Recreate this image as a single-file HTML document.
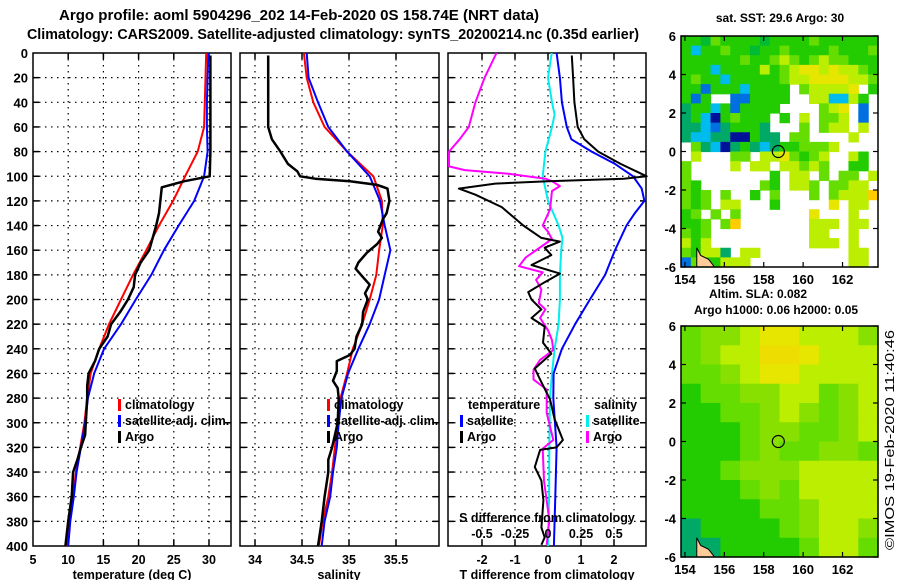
<!DOCTYPE html>
<html><head><meta charset="utf-8"><style>
html,body{margin:0;padding:0;background:#fff;}
svg{display:block;font-family:"Liberation Sans",sans-serif;font-weight:bold;}
</style></head><body>
<svg id="fig" width="900" height="580" viewBox="0 0 900 580" xmlns="http://www.w3.org/2000/svg">
<rect width="900" height="580" fill="#fff"/>
<text x="59" y="20" font-size="14.5" textLength="480" lengthAdjust="spacingAndGlyphs">Argo profile: aoml 5904296_202 14-Feb-2020 0S 158.74E (NRT data)</text>
<text x="27" y="39" font-size="14.5" textLength="612" lengthAdjust="spacingAndGlyphs">Climatology: CARS2009. Satellite-adjusted climatology: synTS_20200214.nc (0.35d earlier)</text>
<g id="plots"></g>
<text x="780" y="22" font-size="12" text-anchor="middle">sat. SST: 29.6 Argo: 30</text>
<text x="758" y="298" font-size="12" text-anchor="middle">Altim. SLA: 0.082</text>
<text x="776" y="314" font-size="12" text-anchor="middle">Argo h1000: 0.06 h2000: 0.05</text>
<text x="0" y="0" font-size="13" font-weight="normal" text-anchor="middle" textLength="220" lengthAdjust="spacingAndGlyphs" transform="translate(894,440) rotate(-90)">©IMOS 19-Feb-2020 11:40:46</text>
</svg>
<script>
// ---- data ----
const tClimDepth=[0,20,40,60,80,100,120,140,160,180,200,220,240,260,280,300,320,340,360,380,400];
const tClim=[29.6,29.5,29.4,29.3,28.4,26.6,24.9,22.9,21.1,19.2,17.5,15.8,14.4,13.2,12.7,12.3,11.7,11.1,10.7,10.1,9.8];
const tSat=[29.9,29.8,29.7,29.7,29.8,29.3,27.9,25.7,23.6,21.8,19.6,17.5,15.1,13.7,12.8,12.4,11.8,11.2,10.8,10.3,10.0];
const tArgoDepth=[2,20,40,60,80,100,104,109,130,140,150,160,170,180,190,200,210,220,230,240,250,260,270,280,300,310,320,330,340,360,380,400];
const tArgo=[30.2,30.2,30.2,30.2,30.2,30.1,26.5,23.3,22.9,22.5,22.0,21.5,20.3,19.5,19.3,18.5,17.4,16.1,15.6,14.4,13.8,12.9,12.7,12.7,12.5,12.4,11.8,11.3,10.7,10.5,10.0,9.6];
const sClimDepth=[0,20,40,60,80,100,120,140,160,180,200,220,240,260,280,300,320,340,360,380,400];
const sClim=[34.52,34.55,34.62,34.74,34.98,35.26,35.35,35.36,35.32,35.29,35.22,35.14,35.04,34.98,34.91,34.88,34.85,34.82,34.78,34.72,34.68];
const sSat=[34.55,34.57,34.67,34.78,34.98,35.22,35.33,35.38,35.44,35.38,35.32,35.22,35.10,34.99,34.92,34.89,34.87,34.83,34.80,34.74,34.71];
const sArgoDepth=[2,20,40,60,70,80,90,96,100,102,104,107,110,120,130,135,145,150,155,162,170,175,182,188,195,200,210,220,230,240,245,250,258,266,272,280,300,320,330,340,360,380,400];
const sArgo=[34.14,34.14,34.14,34.14,34.18,34.27,34.35,34.45,34.48,34.64,35.01,35.30,35.41,35.43,35.40,35.36,35.31,35.35,35.30,35.19,35.10,35.07,35.15,35.22,35.17,35.20,35.15,35.14,35.08,35.06,35.01,34.87,34.87,34.83,34.88,34.89,34.88,34.82,34.78,34.78,34.74,34.71,34.67];
const dTSatDepth=[0,20,40,60,70,80,90,100,110,120,130,140,160,180,200,220,240,260,280,320,360,400];
const dTSat=[0.26,0.36,0.42,0.57,0.71,1.32,2.03,2.58,2.84,2.92,2.63,2.38,2.03,1.73,1.27,0.82,0.42,0.17,0.16,0.26,0.22,0.18];
const dTArgoDepth=[2,20,40,60,70,80,90,100,102,104,106,110,115,125,140,150,153,158,164,172,179,186,194,200,208,215,222,235,244,256,265,281,297,314,320,322,336,347,363,385,393,399];
const dTArgo=[0.72,0.76,0.8,0.9,1.1,1.52,2.2,2.99,2.3,0,-1.6,-2.7,-2.2,-1.4,-0.75,-0.2,0.36,-0.1,0.1,-0.5,0.36,-0.1,-0.6,-0.5,-0.2,-0.5,-0.1,-0.15,0.1,-0.4,-0.24,0.06,0.2,0.45,0.26,-0.24,-0.4,-0.2,-0.14,-0.2,-0.1,-0.2];
const dSSatDepth=[0,20,40,50,60,80,100,110,120,140,150,160,180,200,220,240,260,280,320,360,400];
const dSSat=[0.028,0,0.03,0.05,0.03,-0.02,-0.04,-0.02,0,0.08,0.11,0.10,0.09,0.09,0.08,0.05,0.03,0.015,0.01,0.008,0];
const dSArgoDepth=[0,20,40,60,70,80,92,95,98,102,104,108,112,127,140,145,151,157,166,173,178,184,192,203,208,215,225,233,241,249,257,265,273,292,314,321,347,363,379,399];
const dSArgo=[-0.39,-0.48,-0.55,-0.6,-0.67,-0.75,-0.75,-0.63,-0.3,-0.02,0.03,0.09,0.03,0.015,-0.04,0,0.03,-0.05,-0.17,-0.22,-0.04,-0.09,-0.05,-0.07,-0.02,-0.06,0,0.03,0.04,-0.06,-0.11,-0.11,-0.01,-0.01,0.04,-0.04,-0.03,-0.01,0.01,-0.01];
const depthTicks=[0,20,40,60,80,100,120,140,160,180,200,220,240,260,280,300,320,340,360,380,400];
const tTicks=[5,10,15,20,25,30];
const sTicks=[34,34.5,35,35.5];
const dTTicks=[-2,-1,0,1,2];
const dSTicks=[-0.5,-0.25,0,0.25,0.5];
const dSTickLabels=["-0.5","-0.25","0","0.25","0.5"];
const sstGrid=[
"GGDgGGGGDGGGGgGGGGGG",
"GcGGgGGDGGgGGGGgGGGg",
"GGGGGGgGGgygGgyggGGG",
"GGGcGGGGyGgyYYyYyygG",
"GgGGcGGGGGgyyYYYYyyg",
"GGbGGGcGGGG.gyyyyY.G",
"GbG..bbGGGG..yyccyG.",
"tGGcGbGGGG....gyY.b.",
"tGcnGgGGG.G.y.ggy.b.",
"ttcbtGGGt...g.gyy.y.",
"tccttnnGtt.gg....y..",
".gtcntGtctGGgggy....",
".y...gg.yyYgGgy..yG.",
"g....y.yy.yygyg..GG.",
"g........G.yy.g.gg.y",
"gG......gG.yyg.ggyy.",
"gGg.g..G.g...g.gyyyo",
"gGg.yy...G.....Y.yy.",
"Gg.g.g.......Y...y..",
"GGg.go.......yyy.yy.",
"gGg..........yy..y..",
"yGy..........yyy.y..",
"gGyyt.yy.........yy.",
"bgGGyyy..........yy."];
const slaGrid=[
"gllyYYyyyl",
"glyyOOYyyy",
"gglyYYyyyy",
"Gggllyygly",
"GGgglylgly",
"GGGgllggly",
"GGGglggllg",
"GGglllyyyy",
"GGGglgyyyy",
"GGGGgglyyy",
"tGGGGglyyl",
"ttGGGGgyyg"];
const lonTicks=[154,156,158,160,162];
const latTicks=[6,4,2,0,-2,-4,-6];
const argoLon=158.74, argoLat=0;

// ---- drawing ----
const NS="http://www.w3.org/2000/svg";
const root=document.getElementById('plots');
function mk(tag,attrs,parent){const e=document.createElementNS(NS,tag);for(const k in attrs)e.setAttribute(k,attrs[k]);(parent||root).appendChild(e);return e;}
const Y0=53,Y1=546;
const yD=d=>Y0+(d/400)*(Y1-Y0);
const panels=[
 {x0:33,x1:231,v0:5,v1:5+198/7.04,name:'temperature'},
 {x0:240,x1:439,v0:34-15/94,v1:34+184/94,name:'salinity'},
 {x0:448,x1:646,v0:-100/33,v1:98/33,name:'t-diff'}];
function sx(p,v){return p.x0+(v-p.v0)/(p.v1-p.v0)*(p.x1-p.x0);}
const sxS=v=>548+132*v;
function line(p,xs,ds,color,w,name,fx){
  const pts=xs.map((v,i)=>(fx?fx(v):sx(p,v)).toFixed(1)+','+yD(ds[i]).toFixed(1)).join(' ');
  const el=mk('polyline',{points:pts,fill:'none',stroke:color,'stroke-width':w,'stroke-linejoin':'round'});
  
  
}
function text(x,y,s,size,anchor,name){
  const t=mk('text',{x:x,y:y,'font-size':size,'text-anchor':anchor||'start'});t.textContent=s;
  
  
  return t;
}
panels.forEach((p,pi)=>{
  const g=mk('g',{});
  
  
  const xt=pi==0?tTicks:pi==1?sTicks:dTTicks;
  depthTicks.forEach(d=>{ if(d>0&&d<400){
    mk('line',{x1:p.x0,x2:p.x1,y1:yD(d),y2:yD(d),stroke:'#000','stroke-width':1.2,'stroke-dasharray':'1.5,4.5'},g);
    mk('line',{x1:p.x0,x2:p.x0+6,y1:yD(d),y2:yD(d),stroke:'#000','stroke-width':1.5},g);
    mk('line',{x1:p.x1-6,x2:p.x1,y1:yD(d),y2:yD(d),stroke:'#000','stroke-width':1.5},g);}
    if(pi==0) text(28,yD(d)+5,String(d),13,'end','depth-tick-label');
  });
  xt.forEach(v=>{const x=sx(p,v);
    if(x>p.x0+2&&x<p.x1-2){mk('line',{x1:x,x2:x,y1:Y0,y2:Y1,stroke:'#000','stroke-width':1.2,'stroke-dasharray':'1.5,4.5'},g);
    mk('line',{x1:x,x2:x,y1:Y0,y2:Y0+6,stroke:'#000','stroke-width':1.5},g);
    mk('line',{x1:x,x2:x,y1:Y1-6,y2:Y1,stroke:'#000','stroke-width':1.5},g);}
    text(x,564,String(v),12.5,'middle','x-tick-label');
  });
  mk('rect',{x:p.x0,y:Y0,width:p.x1-p.x0,height:Y1-Y0,fill:'none',stroke:'#000','stroke-width':1.5},g);
});
text(132,579,'temperature (deg C)',12.5,'middle','temperature-axis-title');
text(339,579,'salinity',12.5,'middle','salinity-axis-title');
text(547,579,'T difference from climatology',12.5,'middle','t-diff-axis-title');
// series
const P=panels;
line(P[0],tClim,tClimDepth,'#f00',2,'temp-climatology-line');
line(P[0],tSat,tClimDepth,'#00f',2,'temp-satellite-line');
line(P[0],tArgo,tArgoDepth,'#000',2.5,'temp-argo-line');
line(P[1],sClim,sClimDepth,'#f00',2,'sal-climatology-line');
line(P[1],sSat,sClimDepth,'#00f',2,'sal-satellite-line');
line(P[1],sArgo,sArgoDepth,'#000',2.5,'sal-argo-line');
line(P[2],dSSat,dSSatDepth,'#0ee',2,'sdiff-satellite-line',sxS);
line(P[2],dSArgo,dSArgoDepth,'#f0f',2,'sdiff-argo-line',sxS);
line(P[2],dTSat,dTSatDepth,'#00f',2,'tdiff-satellite-line');
line(P[2],dTArgo,dTArgoDepth,'#000',2,'tdiff-argo-line');
// S diff axis labels
text(547,522,'S difference from climatology',12.5,'middle','s-diff-axis-title');
dSTicks.forEach((v,i)=>text(sxS(v),538,dSTickLabels[i],12.5,'middle','s-diff-tick-label'));
// legends
function leg(x,y,c,label,name){
  const r=mk('rect',{x:x,y:y-10,width:3,height:12,fill:c});
  
  
  text(x+7,y,label,12.5,'start',name+'-label');
}
[[118,0],[327,1]].forEach(([x])=>{
  leg(x,409,'#f00','climatology','legend-climatology');
  leg(x,425,'#00f','satellite-adj. clim.','legend-satellite-adj');
  leg(x,441,'#000','Argo','legend-argo');
});
text(468,409,'temperature',12.5,'start','legend-temperature-heading');
text(594,409,'salinity',12.5,'start','legend-salinity-heading');
leg(460,425,'#00f','satellite','legend-t-satellite');
leg(460,441,'#000','Argo','legend-t-argo');
leg(586,425,'#0ee','satellite','legend-s-satellite');
leg(586,441,'#f0f','Argo','legend-s-argo');
// maps
const MX0=681,MX1=878,L0=153.8,L1=163.8;
const mxL=l=>MX0+(l-L0)/(L1-L0)*(MX1-MX0);
const colors={G:'#22cc00',D:'#00bb33',g:'#66dd00',y:'#bbee00',Y:'#e6e600',o:'#ffcc00',t:'#00aa66',c:'#00bbee',b:'#0070e0',n:'#001199',l:'#88e000',O:'#eedd00'};
function drawMap(grid,y0,y1,name,edge){
  const g=mk('g',{});
  
  
  const my=la=>y0+(6-la)/12*(y1-y0);
  const rows=grid.length,cols=grid[0].length;
  const cw=(MX1-MX0)/cols,ch=(y1-y0)/rows;
  grid.forEach((row,r)=>{[...row].forEach((k,c)=>{ if(k!=='.'){
    const cell=mk('rect',{x:(MX0+c*cw).toFixed(2),y:(y0+r*ch).toFixed(2),width:(cw+0.6).toFixed(2),height:(ch+0.6).toFixed(2),fill:colors[k]},g);
    
    
  }});});
  // land
  const land=mk('path',{d:`M${mxL(154.6)},${my(-6)} L${mxL(154.6)},${my(-5)} L${mxL(154.8)},${my(-5.4)} L${mxL(155.2)},${my(-5.6)} L${mxL(155.5)},${my(-6)} Z`,fill:'#ffcc99',stroke:'#000','stroke-width':1},g);
  
  
  const cir=mk('circle',{cx:mxL(argoLon),cy:my(argoLat),r:6,fill:'none',stroke:'#000','stroke-width':1.2},g);
  
  
  mk('rect',{x:MX0,y:y0,width:MX1-MX0,height:y1-y0,fill:'none',stroke:'#000','stroke-width':1.5},g);
  latTicks.forEach(la=>{const y=my(la);
    mk('line',{x1:MX0,x2:MX0+5,y1:y,y2:y,stroke:'#000','stroke-width':1.2},g);
    mk('line',{x1:MX1-5,x2:MX1,y1:y,y2:y,stroke:'#000','stroke-width':1.2},g);
    text(676,y+5,String(la),13,'end','lat-tick-label');});
  lonTicks.forEach(lo=>{const x=mxL(lo);
    mk('line',{x1:x,x2:x,y1:y0,y2:y0+5,stroke:'#000','stroke-width':1.2},g);
    mk('line',{x1:x,x2:x,y1:y1-5,y2:y1,stroke:'#000','stroke-width':1.2},g);
    text(x,y1+17,String(lo),13,'middle','lon-tick-label');});
}
drawMap(sstGrid,36,267,'sst-map');
drawMap(slaGrid,326,557,'sla-map');
</script>
</body></html>
